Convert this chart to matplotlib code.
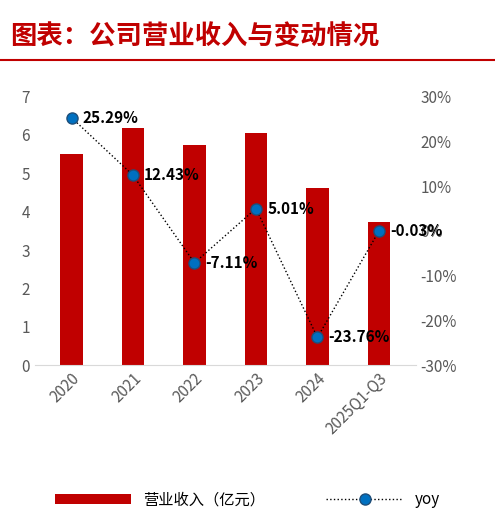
import matplotlib.pyplot as plt
from matplotlib.ticker import FuncFormatter
from matplotlib.lines import Line2D

plt.rcParams['font.family'] = ['Noto Sans CJK SC', 'DejaVu Sans']

years = ["2020", "2021", "2022", "2023", "2024", "2025Q1-Q3"]
revenue = [5.51, 6.17, 5.75, 6.04, 4.62, 3.73]
yoy = [25.29, 12.43, -7.11, 5.01, -23.76, -0.03]
yoy_labels = ["25.29%", "12.43%", "-7.11%", "5.01%", "-23.76%", "-0.03%"]

RED = "#C00000"
BLUE = "#0070C0"

fig = plt.figure(figsize=(4.95, 5.22), dpi=100)
fig.text(0.02, 0.915, "图表：公司营业收入与变动情况", color=RED, fontsize=19,
         fontweight="bold", style="italic")
fig.add_artist(Line2D([0.0, 1.0], [0.885, 0.885], color=RED, lw=1.5))

ax = fig.add_axes([0.07, 0.30, 0.77, 0.515])
x = range(len(years))
ax.bar(x, revenue, width=0.36, color=RED, label="营业收入（亿元）")
ax.set_ylim(0, 7)
ax.set_xlim(-0.6, 5.6)
ax.set_xticks(list(x))
ax.set_xticklabels(years, rotation=45, ha="right", rotation_mode="anchor", fontsize=11, color="#595959")
ax.tick_params(axis="y", labelsize=11, colors="#595959", length=0)
ax.tick_params(axis="x", length=0)
for s in ["top", "right", "left"]:
    ax.spines[s].set_visible(False)
ax.spines["bottom"].set_color("#d9d9d9")

ax2 = ax.twinx()
ax2.plot(list(x), yoy, color="black", lw=1, ls=":", marker="o", markersize=8,
         markerfacecolor=BLUE, markeredgecolor="#1f4e79", label="yoy")
ax2.set_ylim(-30, 30)
ax2.set_yticks(range(-30, 31, 10))
ax2.yaxis.set_major_formatter(FuncFormatter(lambda v, p: f"{v:.0f}%"))
ax2.tick_params(axis="y", labelsize=11, colors="#595959", length=0)
for s in ax2.spines.values():
    s.set_visible(False)
for xi, v, t in zip(x, yoy, yoy_labels):
    ax2.annotate(t, (xi, v), xytext=(8, 0), textcoords="offset points",
                 va="center", ha="left", fontsize=11, fontweight="bold")

h1, l1 = ax.get_legend_handles_labels()
h2, l2 = ax2.get_legend_handles_labels()
fig.legend(h1 + h2, l1 + l2, loc="lower center", bbox_to_anchor=(0.5, 0.0), ncol=2,
           frameon=False, fontsize=11, handlelength=5, columnspacing=4)

fig.savefig("out.png", dpi=100)
